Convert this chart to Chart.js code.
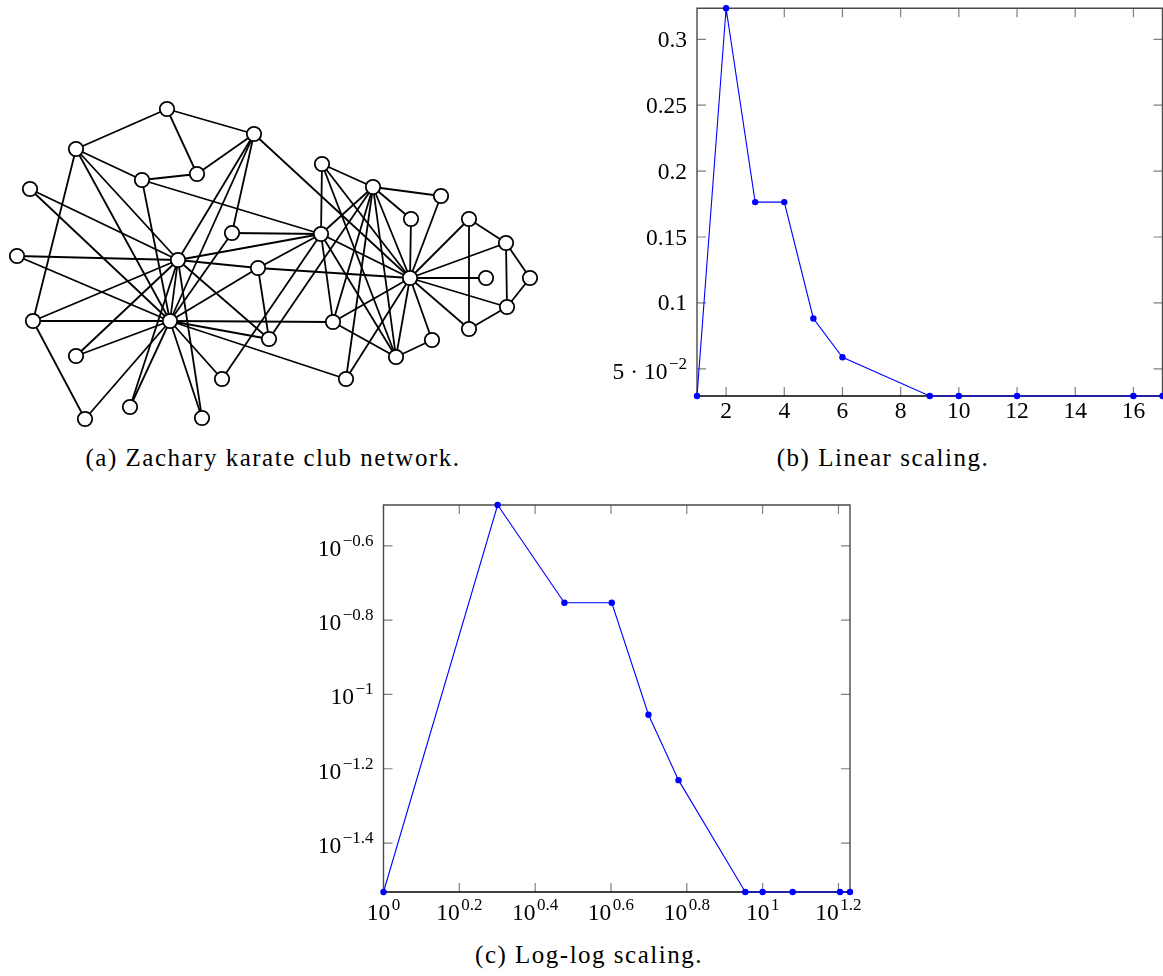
<!DOCTYPE html>
<html>
<head>
<meta charset="utf-8">
<script src="https://cdn.jsdelivr.net/npm/chart.js@4.4.1/dist/chart.umd.min.js"></script>
<style>
  body { margin: 0; background: #fff; width: 1163px; height: 976px; position: relative; overflow: hidden; }
  canvas { position: absolute; }
  .cap { position: absolute; width: 420px; text-align: center; white-space: nowrap;
         font-family: "Liberation Serif", serif; font-size: 25px; line-height: 25px; letter-spacing: 1.5px; color: #000; }
</style>
</head>
<body>

<canvas id="netChart" width="545" height="345" style="left:0px;top:90px;width:545px;height:345px"></canvas>
<canvas id="linChart" width="563" height="440" style="left:600px;top:0px;width:563px;height:440px"></canvas>
<canvas id="logChart" width="600" height="440" style="left:290px;top:490px;width:600px;height:440px"></canvas>

<div class="cap" style="left:63px;top:445px">(a) Zachary karate club network.</div>
<div class="cap" style="left:673px;top:445px">(b) Linear scaling.</div>
<div class="cap" style="left:379px;top:942px">(c) Log-log scaling.</div>

<script>

// data start

// degree distribution of the karate club
const degrees = [1, 2, 3, 4, 5, 6, 9, 10, 12, 16, 17];
const probability = [0.0294, 0.3235, 0.1765, 0.1765, 0.0882, 0.0588, 0.0294, 0.0294, 0.0294, 0.0294, 0.0294];

// tick labels
const linXTicks = [2, 4, 6, 8, 10, 12, 14, 16];
const linYTicks = [0.05, 0.1, 0.15, 0.2, 0.25, 0.3];
const linYLabels = [['5 · 10', '−2'], ['0.1'], ['0.15'], ['0.2'], ['0.25'], ['0.3']];
const logXExps = [0, 0.2, 0.4, 0.6, 0.8, 1, 1.2];
const logYExps = [-1.4, -1.2, -1, -0.8, -0.6];

// network layout (node 1..34) and edges
const nodeX = [410, 373, 321, 396, 469, 507, 506, 322, 258, 222, 469, 486, 432, 333, 30, 17, 530, 411,
               76, 346, 130, 441, 202, 76, 197, 167, 85, 142, 232, 33, 269, 254, 178, 170];
const nodeY = [278, 187, 234, 357, 219, 307, 243, 164, 268, 379, 329, 278, 340, 322, 189, 256, 278, 219,
               356, 379, 407, 196, 418, 149, 174, 109, 419, 180, 233, 321, 339, 134, 260, 321];
const edges = [
  [1,2],[1,3],[1,4],[1,5],[1,6],[1,7],[1,8],[1,9],[1,11],[1,12],[1,13],[1,14],[1,18],[1,20],[1,22],[1,32],
  [2,3],[2,4],[2,8],[2,14],[2,18],[2,20],[2,22],[2,31],
  [3,4],[3,8],[3,9],[3,10],[3,14],[3,28],[3,29],[3,33],
  [4,8],[4,13],[4,14],[5,7],[5,11],[6,7],[6,11],[6,17],[7,17],
  [9,31],[9,33],[9,34],[10,34],[14,34],[15,33],[15,34],[16,33],[16,34],
  [19,33],[19,34],[20,34],[21,33],[21,34],[23,33],[23,34],
  [24,26],[24,28],[24,30],[24,33],[24,34],[25,26],[25,28],[25,32],[26,32],
  [27,30],[27,34],[28,34],[29,32],[29,34],[30,33],[30,34],[31,33],[31,34],[32,33],[32,34],[33,34]
];

// data end


// pgfplots-like frame, inward ticks and labels start

const FONT = '"Liberation Serif", serif';

function drawLabel(ctx, parts, x, y, align) {
  ctx.font = '23.5px ' + FONT;
  const wb = ctx.measureText(parts[0]).width;
  let we = 0;
  if (parts[1]) {
    ctx.font = '17px ' + FONT;
    we = ctx.measureText(parts[1]).width + 1.5;
  }
  const w = wb + we;
  const x0 = align === 'right' ? x - w : x - w / 2;
  ctx.fillStyle = '#000';
  ctx.textAlign = 'left';
  ctx.textBaseline = 'alphabetic';
  ctx.font = '23.5px ' + FONT;
  ctx.fillText(parts[0], x0, y);
  if (parts[1]) {
    ctx.font = '17px ' + FONT;
    ctx.fillText(parts[1], x0 + wb + 1.5, y - 10);
  }
}

const pgfAxis = {
  id: 'pgfAxis',
  beforeDatasetsDraw(chart, args, opts) {
    const ctx = chart.ctx;
    const a = chart.chartArea;
    const xs = chart.scales.x, ys = chart.scales.y;
    ctx.save();
    // ticks
    ctx.strokeStyle = 'rgba(0,0,0,0.5)';
    ctx.lineWidth = 1.2;
    ctx.beginPath();
    opts.xTicks.forEach(function (t) {
      const px = xs.getPixelForValue(t.v);
      ctx.moveTo(px, a.bottom); ctx.lineTo(px, a.bottom - 9);
      ctx.moveTo(px, a.top); ctx.lineTo(px, a.top + 9);
    });
    opts.yTicks.forEach(function (t) {
      const py = ys.getPixelForValue(t.v);
      ctx.moveTo(a.left, py); ctx.lineTo(a.left + 9, py);
      ctx.moveTo(a.right, py); ctx.lineTo(a.right - 9, py);
    });
    ctx.stroke();
    // frame
    ctx.strokeStyle = '#4a4a4a';
    ctx.lineWidth = 1.4;
    ctx.beginPath();
    ctx.moveTo(a.left, a.bottom); ctx.lineTo(a.left, a.top);
    ctx.lineTo(a.right, a.top); ctx.lineTo(a.right, a.bottom);
    ctx.stroke();
    ctx.strokeStyle = '#000';
    ctx.beginPath();
    ctx.moveTo(a.left, a.bottom); ctx.lineTo(a.right, a.bottom);
    ctx.stroke();
    // labels
    opts.xTicks.forEach(function (t) {
      drawLabel(ctx, t.label, xs.getPixelForValue(t.v), a.bottom + opts.xLabelOffset, 'center');
    });
    opts.yTicks.forEach(function (t) {
      drawLabel(ctx, t.label, a.left - 10, ys.getPixelForValue(t.v) + (t.label[1] ? 10 : 7.5), 'right');
    });
    ctx.restore();
  }
};

// pgfplots-like frame end


// script for network start

const nodePoints = nodeX.map(function (x, i) { return { x: x, y: nodeY[i] }; });

const netDatasets = [{
  data: nodePoints,
  showLine: false,
  pointRadius: 7.2,
  pointBackgroundColor: '#fff',
  pointBorderColor: '#000',
  pointBorderWidth: 1.8,
  order: 0,
  clip: false
}];

edges.forEach(function (e) {
  netDatasets.push({
    data: [nodePoints[e[0] - 1], nodePoints[e[1] - 1]],
    showLine: true,
    borderColor: '#000',
    borderWidth: 1.8,
    pointRadius: 0,
    order: 1,
    clip: false
  });
});

new Chart(document.getElementById('netChart'), {
  type: 'scatter',
  data: { datasets: netDatasets },
  options: {
    responsive: false,
    animation: false,
    events: [],
    layout: { padding: 0, autoPadding: false },
    plugins: { legend: { display: false }, tooltip: { enabled: false } },
    scales: {
      x: { type: 'linear', display: false, min: 0, max: 545 },
      y: { type: 'linear', display: false, min: 90, max: 435, reverse: true }
    }
  }
});

// script for network end


// script for linear chart start

const seriesPoints = degrees.map(function (d, i) { return { x: d, y: probability[i] }; });

function seriesDataset() {
  return {
    data: seriesPoints,
    showLine: true,
    borderColor: 'rgb(0,0,255)',
    borderWidth: 1.1,
    pointRadius: 3.2,
    pointBackgroundColor: 'rgb(0,0,255)',
    pointBorderWidth: 0,
    clip: false
  };
}

new Chart(document.getElementById('linChart'), {
  type: 'scatter',
  data: { datasets: [seriesDataset()] },
  options: {
    responsive: false,
    animation: false,
    events: [],
    layout: { padding: { left: 97, top: 8.3, right: 0.5, bottom: 44 }, autoPadding: false },
    plugins: {
      legend: { display: false },
      tooltip: { enabled: false },
      pgfAxis: {
        xLabelOffset: 22,
        xTicks: linXTicks.map(function (v) { return { v: v, label: [String(v)] }; }),
        yTicks: linYTicks.map(function (v, i) { return { v: v, label: linYLabels[i] }; })
      }
    },
    scales: {
      x: { type: 'linear', display: false, min: 1, max: 17 },
      y: { type: 'linear', display: false, min: 0.0294, max: 0.3235 }
    }
  },
  plugins: [pgfAxis]
});

// script for linear chart end


// script for log-log chart start

function expText(e) { return String(e).replace('-', '−'); }

new Chart(document.getElementById('logChart'), {
  type: 'scatter',
  data: { datasets: [seriesDataset()] },
  options: {
    responsive: false,
    animation: false,
    events: [],
    layout: { padding: { left: 93.5, top: 15, right: 40, bottom: 38 }, autoPadding: false },
    plugins: {
      legend: { display: false },
      tooltip: { enabled: false },
      pgfAxis: {
        xLabelOffset: 28,
        xTicks: logXExps.map(function (e) { return { v: Math.pow(10, e), label: ['10', expText(e)] }; }),
        yTicks: logYExps.map(function (e) { return { v: Math.pow(10, e), label: ['10', expText(e)] }; })
      }
    },
    scales: {
      x: { type: 'logarithmic', display: false, min: 1, max: 17 },
      y: { type: 'logarithmic', display: false, min: 0.0294, max: 0.3235 }
    }
  },
  plugins: [pgfAxis]
});

// script for log-log chart end

</script>
</body>
</html>
